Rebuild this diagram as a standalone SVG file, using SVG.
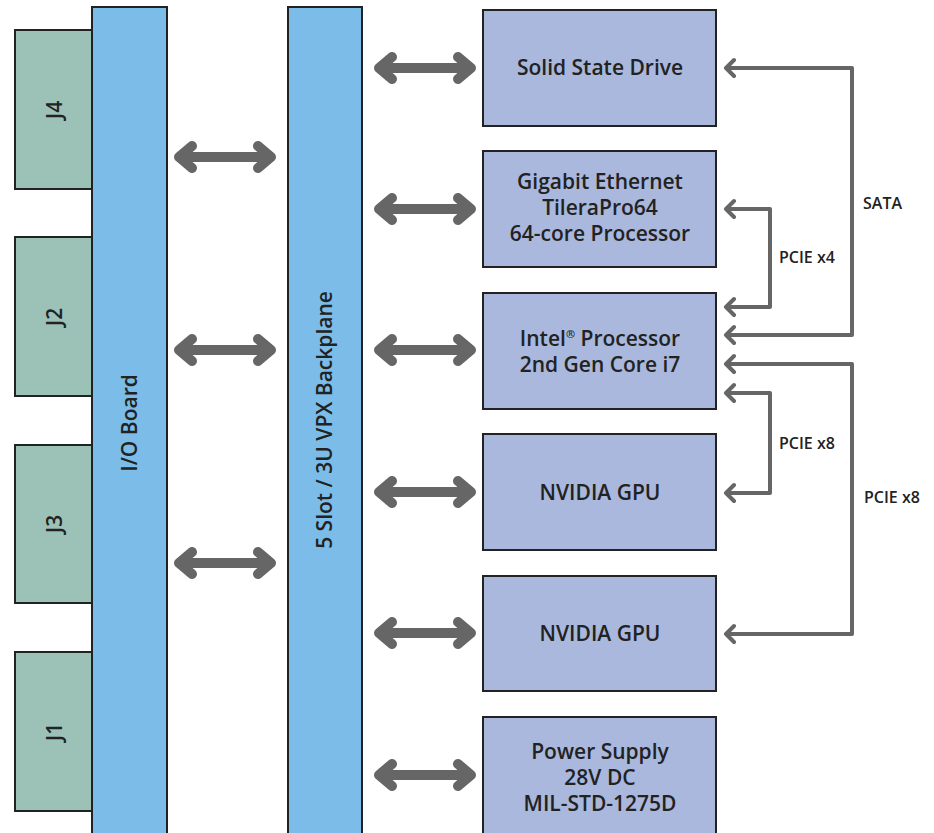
<svg xmlns="http://www.w3.org/2000/svg" width="934" height="833" viewBox="0 0 934 833">
<defs>
<style>
.j{fill:#9cc2b8;stroke:#222;stroke-width:2}
.bar{fill:#7bbde8;stroke:#222;stroke-width:2}
.box{fill:#a9b8dc;stroke:#222;stroke-width:2}
.t{font-family:"Open Sans","Noto Sans",sans-serif;font-weight:600;font-size:21px;fill:#222;text-anchor:middle}
.s{font-family:"Open Sans","Noto Sans",sans-serif;font-weight:600;font-size:16px;fill:#222}
.big{fill:none;stroke:#666;stroke-width:10;stroke-linecap:round;stroke-linejoin:round}
.thin{fill:none;stroke:#666;stroke-width:4;stroke-linecap:round;stroke-linejoin:round}
</style>
</defs>
<rect width="934" height="833" fill="#fff"/>
<g id="J4"><rect class="j" x="15" y="30" width="77" height="159"/><text class="t" transform="translate(62,110) rotate(-90)">J4</text></g>
<g id="J2"><rect class="j" x="15" y="237" width="77" height="159"/><text class="t" transform="translate(62,317) rotate(-90)">J2</text></g>
<g id="J3"><rect class="j" x="15" y="445" width="77" height="158"/><text class="t" transform="translate(62,524) rotate(-90)">J3</text></g>
<g id="J1"><rect class="j" x="15" y="652" width="77" height="159"/><text class="t" transform="translate(62,732) rotate(-90)">J1</text></g>
<g id="io"><rect class="bar" x="92" y="7" width="75" height="840"/><text class="t" transform="translate(137,423) rotate(-90)">I/O Board</text></g>
<g id="backplane"><rect class="bar" x="288" y="7" width="74" height="840"/><text class="t" transform="translate(332,420) rotate(-90)">5 Slot / 3U VPX Backplane</text></g>
<g id="ssd"><rect class="box" x="483" y="10" width="233" height="116"/><text class="t" x="600" y="75">Solid State Drive</text></g>
<g id="gige"><rect class="box" x="483" y="151" width="233" height="116"/><text class="t" x="600" y="189">Gigabit Ethernet</text><text class="t" x="600" y="215">TileraPro64</text><text class="t" x="600" y="241">64-core Processor</text></g>
<g id="intel"><rect class="box" x="483" y="293" width="233" height="116"/><text class="t" x="600" y="346">Intel<tspan font-size="11" dy="-8">®</tspan><tspan dy="8"> Processor</tspan></text><text class="t" x="600" y="372">2nd Gen Core i7</text></g>
<g id="gpu1"><rect class="box" x="483" y="434" width="233" height="116"/><text class="t" x="600" y="500">NVIDIA GPU</text></g>
<g id="gpu2"><rect class="box" x="483" y="576" width="233" height="115"/><text class="t" x="600" y="641">NVIDIA GPU</text></g>
<g id="psu"><rect class="box" x="483" y="717" width="233" height="130"/><text class="t" x="600" y="759">Power Supply</text><text class="t" x="600" y="785">28V DC</text><text class="t" x="600" y="811">MIL-STD-1275D</text></g>
<g id="connectors">
<g class="big">
<path d="M180,157 H270 M192,146 L179,157 L192,168 M258,146 L271,157 L258,168"/>
<path d="M180,350 H270 M192,339 L179,350 L192,361 M258,339 L271,350 L258,361"/>
<path d="M180,563 H270 M192,552 L179,563 L192,574 M258,552 L271,563 L258,574"/>
<path d="M380,68 H470 M392,57 L379,68 L392,79 M458,57 L471,68 L458,79"/>
<path d="M380,209 H470 M392,198 L379,209 L392,220 M458,198 L471,209 L458,220"/>
<path d="M380,350 H470 M392,339 L379,350 L392,361 M458,339 L471,350 L458,361"/>
<path d="M380,492 H470 M392,481 L379,492 L392,503 M458,481 L471,492 L458,503"/>
<path d="M380,633 H470 M392,622 L379,633 L392,644 M458,622 L471,633 L458,644"/>
<path d="M380,775 H470 M392,764 L379,775 L392,786 M458,764 L471,775 L458,786"/>
</g>
<g class="thin">
<path d="M726,68 H852 V335 H726 M734,60 L726,68 L734,76 M734,327 L726,335 L734,343"/>
<path d="M726,209 H770 V307 H726 M734,201 L726,209 L734,217 M734,299 L726,307 L734,315"/>
<path d="M726,393 H770 V493 H726 M734,385 L726,393 L734,401 M734,485 L726,493 L734,501"/>
<path d="M726,364 H852 V634 H726 M734,356 L726,364 L734,372 M734,626 L726,634 L734,642"/>
</g>
<text class="s" x="863" y="209">SATA</text>
<text class="s" x="779" y="263">PCIE x4</text>
<text class="s" x="779" y="449">PCIE x8</text>
<text class="s" x="864" y="503">PCIE x8</text>
</g>
</svg>
